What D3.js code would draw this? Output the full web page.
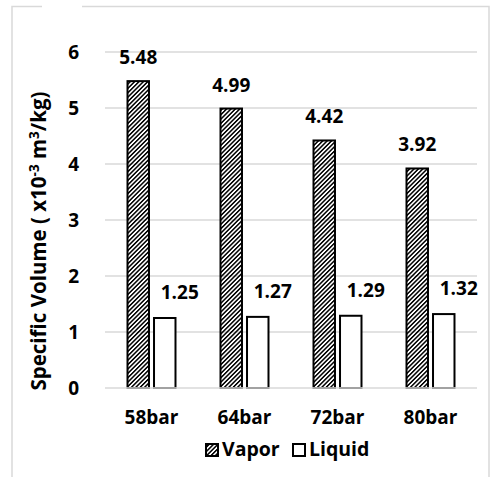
<!DOCTYPE html>
<html>
<head>
<meta charset="utf-8">
<title>Specific Volume</title>
<script src="https://d3js.org/d3.v7.min.js"></script>
<style>
body { margin: 0; background: #fff; }
text { font-family: "Open Sans", Lato, sans-serif; font-weight: bold; fill: #000; }
</style>
</head>
<body>
<div id="chart"></div>
<script>
// data
var categories = ["58bar", "64bar", "72bar", "80bar"];
var seriesNames = ["Vapor", "Liquid"];
var vapor = [5.48, 4.99, 4.42, 3.92];
var liquid = [1.25, 1.27, 1.29, 1.32];
var yTicks = [0, 1, 2, 3, 4, 5, 6];

var width = 491, height = 477;
var plotLeft = 105, plotRight = 477, plotTop = 52, plotBottom = 388;

var svg = d3.select("#chart").append("svg")
  .attr("width", width).attr("height", height);

// hatch for vapor
var defs = svg.append("defs");
defs.append("pattern")
  .attr("id", "hatch")
  .attr("patternUnits", "userSpaceOnUse")
  .attr("width", 3.1).attr("height", 4)
  .attr("patternTransform", "rotate(45)")
  .append("rect")
  .attr("x", 0).attr("y", 0)
  .attr("width", 1.5).attr("height", 4)
  .attr("fill", "#000");

// outer frame (chart area border, partly cut at the top)
var frame = svg.append("g").attr("stroke", "#d9d9d9").attr("stroke-width", 1.5).attr("fill", "none");
frame.append("path").attr("d", "M12,477V6.5H42");
frame.append("path").attr("d", "M82,6.5H489V477");

var y = d3.scaleLinear().domain([0, 6]).range([plotBottom, plotTop]);
var x0 = d3.scaleBand().domain(categories).range([plotLeft, plotRight])
  .paddingInner(0.484).paddingOuter(0.242);
var x1 = d3.scaleBand().domain(seriesNames).range([0, x0.bandwidth()])
  .paddingInner(0.19);

// gridlines
svg.append("g").selectAll("line")
  .data(yTicks.filter(function(d) { return d > 0; }))
  .enter().append("line")
  .attr("x1", plotLeft).attr("x2", plotRight)
  .attr("y1", function(d) { return y(d); })
  .attr("y2", function(d) { return y(d); })
  .attr("stroke", "#d9d9d9").attr("stroke-width", 1.5);

// y tick labels
svg.append("g").selectAll("text")
  .data(yTicks)
  .enter().append("text")
  .attr("x", 79)
  .attr("y", function(d) { return y(d); })
  .attr("dy", "0.36em")
  .attr("text-anchor", "end")
  .attr("font-size", 19)
  .text(function(d) { return d; });

var rows = categories.map(function(c, i) {
  return { cat: c, values: [
    { name: "Vapor", value: vapor[i] },
    { name: "Liquid", value: liquid[i] }
  ] };
});

var groups = svg.append("g").selectAll("g")
  .data(rows)
  .enter().append("g")
  .attr("transform", function(d) { return "translate(" + x0(d.cat) + ",0)"; });

groups.selectAll("rect")
  .data(function(d) { return d.values; })
  .enter().append("rect")
  .attr("x", function(d) { return x1(d.name); })
  .attr("y", function(d) { return y(d.value); })
  .attr("width", x1.bandwidth())
  .attr("height", function(d) { return y(0) - y(d.value); })
  .attr("fill", function(d) { return d.name == "Vapor" ? "url(#hatch)" : "#fff"; })
  .attr("stroke", "#000").attr("stroke-width", 2);

// value labels
groups.selectAll("text")
  .data(function(d) { return d.values; })
  .enter().append("text")
  .attr("x", function(d) {
    return x1(d.name) + x1.bandwidth() / 2 + (d.name == "Liquid" ? 15 : 0);
  })
  .attr("y", function(d) { return y(d.value) - (d.name == "Liquid" ? 19 : 17); })
  .attr("text-anchor", "middle")
  .attr("font-size", 19)
  .text(function(d) { return d.value.toFixed(2); });

// zero line
svg.append("line")
  .attr("x1", plotLeft).attr("x2", plotRight)
  .attr("y1", y(0)).attr("y2", y(0))
  .attr("stroke", "#d9d9d9").attr("stroke-width", 1.5);

// x category labels
svg.append("g").selectAll("text")
  .data(categories)
  .enter().append("text")
  .attr("x", function(d) { return x0(d) + x0.bandwidth() / 2; })
  .attr("y", 424)
  .attr("text-anchor", "middle")
  .attr("font-size", 19)
  .text(function(d) { return d; });

// y axis title
var title = svg.append("text")
  .attr("transform", "translate(46,241) rotate(-90)")
  .attr("text-anchor", "middle")
  .attr("font-size", 20.5);
title.append("tspan").text("Specific Volume ( x10");
title.append("tspan").attr("dy", -7).attr("font-size", 13.5).text("-3");
title.append("tspan").attr("dy", 7).text(" m");
title.append("tspan").attr("dy", -7).attr("font-size", 13.5).text("3");
title.append("tspan").attr("dy", 7).text("/kg)");

// legend
var legendX = [205, 292];
var legend = svg.append("g").selectAll("g")
  .data(seriesNames)
  .enter().append("g")
  .attr("transform", function(d, i) { return "translate(" + legendX[i] + ",443)"; });
legend.append("rect")
  .attr("x", 1).attr("y", 1).attr("width", 12).attr("height", 12)
  .attr("fill", function(d) { return d == "Vapor" ? "url(#hatch)" : "#fff"; })
  .attr("stroke", "#000").attr("stroke-width", 2);
legend.append("text")
  .attr("x", 17).attr("y", 13)
  .attr("font-size", 19.5)
  .text(function(d) { return d; });
</script>
</body>
</html>
